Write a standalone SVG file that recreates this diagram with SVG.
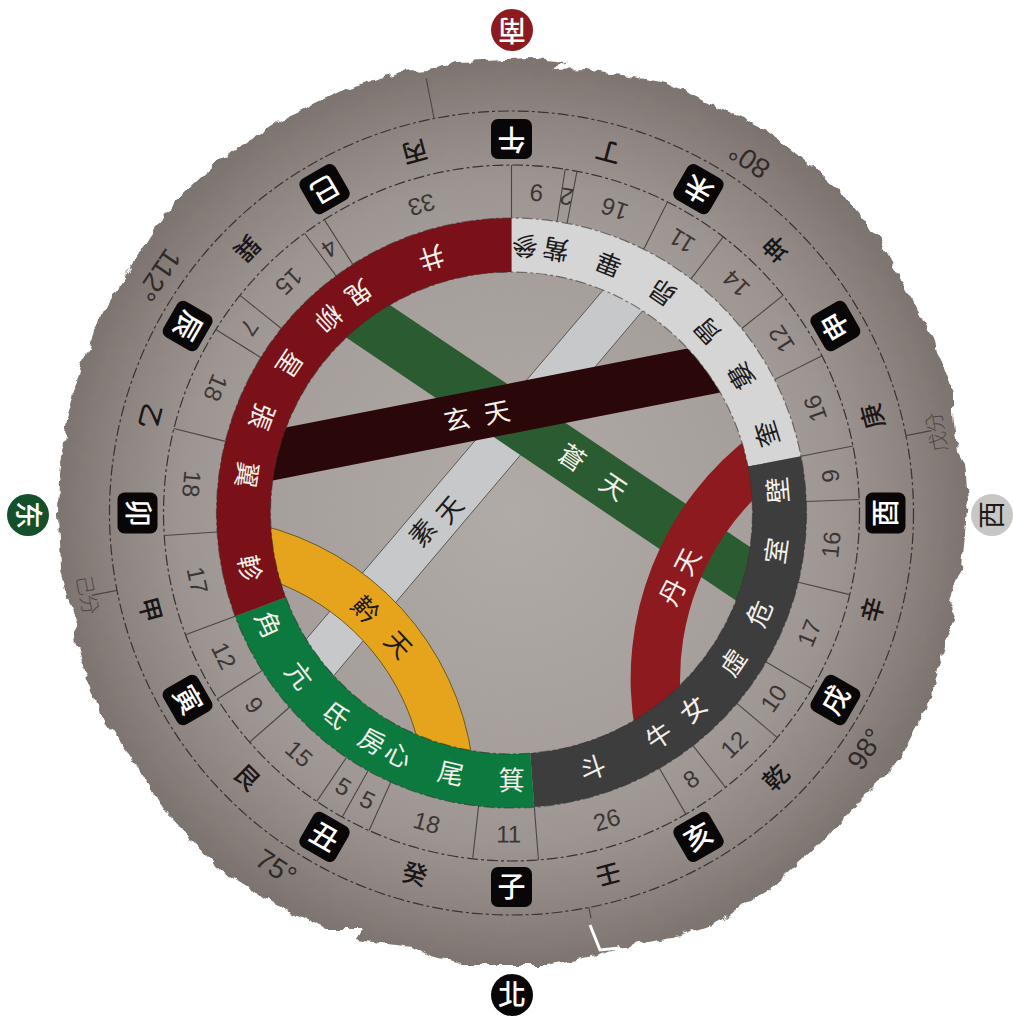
<svg xmlns="http://www.w3.org/2000/svg" width="1013" height="1019" viewBox="0 0 1013 1019">
<style>
text{font-family:"Noto Sans CJK TC","Noto Sans CJK SC","Liberation Sans",sans-serif;text-anchor:middle}
.num{font-family:"Liberation Sans",sans-serif;font-size:24px;fill:#3b3634}
.deg{font-family:"Liberation Sans",sans-serif;font-size:28px;fill:#2f2b29}
.stem{font-size:25px;fill:#191615;font-weight:500}
.tile{fill:#080606}
.tg{font-size:28px;fill:#fff;font-weight:500}
.lw{font-size:26px;fill:#f4f0ea}
.lk{font-size:26px;fill:#1c1a1a}
.fen{font-size:20px;fill:#4d4744;font-weight:300}
.dash{fill:none;stroke:#383331;stroke-width:1.2;stroke-dasharray:11 3 3 3}
.seg line{stroke:#4c4643;stroke-width:1.1}
</style>
<defs>
<radialGradient id="disk" gradientUnits="userSpaceOnUse" cx="511.5" cy="513" r="460">
<stop offset="0" stop-color="#b1aba8"/>
<stop offset="0.55" stop-color="#a59e9a"/>
<stop offset="0.72" stop-color="#9d9591"/>
<stop offset="0.88" stop-color="#8c837f"/>
<stop offset="1" stop-color="#7b726e"/>
</radialGradient>
<filter id="rough" x="-5%" y="-5%" width="110%" height="110%">
<feTurbulence type="fractalNoise" baseFrequency="0.09" numOctaves="2" seed="4" result="n"/>
<feDisplacementMap in="SourceGraphic" in2="n" scale="9" xChannelSelector="R" yChannelSelector="G"/>
<feGaussianBlur stdDeviation="0.7"/>
</filter>
</defs>

<g id="disk-ground">
<path filter="url(#rough)" fill="url(#disk)" d="M400 72L430 70L457 62L533 59L567 62L552 70L587 69L633 77L667 83L717 107L767 130L800 157L840 190L880 240L913 300L933 340L953 393L953 413L957 450L965 463L968 500L965 533L962 567L947 600L955 620L947 640L930 700L900 760L860 800L827 837L803 860L773 887L740 907L723 920L680 935L620 947L597 955L547 965L463 965L427 955L413 947L380 943L357 940L363 930L330 930L280 907L220 870L167 813L140 770L100 713L83 670L73 633L77 620L68 602L60 570L58 513L59 480L67 420L80 370L100 317L150 237L173 203L220 160L280 120L340 92Z"/>
<path d="M590 925L600 950L620 948" fill="none" stroke="#fff" stroke-width="3"/>
</g>

<g id="bands">
<polygon points="610,282 650,302 325,686 297,650" fill="#c6c8ca" stroke="#5c5856"/>
<polygon points="381,299 762,555 747,608 338,332" fill="#2b5c31"/>
<polygon points="273,430 695,347 733,390 260,483" fill="#2a0708"/>
<path d="M257.8 524.3A281 281 0 0 1 472.3 759.4L417.3 738.7A231 231 0 0 0 268.6 579.4Z" fill="#e5a41b" stroke="#6a5a20"/>
<path d="M754.6 433A306 306 0 0 0 635.4 732.8L680.6 696.4A257 257 0 0 1 762.6 490.6Z" fill="#8c1a1e"/>
</g>

<g id="ring">
<path d="M511.5 218A295 295 0 0 1 801 456.2L748 466.6A241 241 0 0 0 511.5 272Z" fill="#d5d5d5"/>
<path d="M801 456.2A295 295 0 0 1 534.3 807.1L530.2 753.3A241 241 0 0 0 748 466.6Z" fill="#3d3d3d"/>
<path d="M534.3 807.1A295 295 0 0 1 235.1 616.2L285.7 597.3A241 241 0 0 0 530.2 753.3Z" fill="#0c7a3e"/>
<path d="M235.1 616.2A295 295 0 0 1 511.5 218L511.5 272A241 241 0 0 0 285.7 597.3Z" fill="#7a1018"/>
<circle class="dash" cx="511.5" cy="513" r="295" opacity="0.6"/>
<circle class="dash" cx="511.5" cy="513" r="241" opacity="0.6"/>
</g>

<g id="connectors">
<circle class="dash" cx="511.5" cy="513" r="348"/>
<circle class="dash" cx="511.5" cy="513" r="402"/>
<g class="seg">
<line x1="511.5" y1="218" x2="511.5" y2="165"/>
<line x1="511.5" y1="218" x2="511.5" y2="165" transform="rotate(8.88 511.5 513)"/>
<line x1="511.5" y1="218" x2="511.5" y2="165" transform="rotate(10.85 511.5 513)"/>
<line x1="511.5" y1="218" x2="511.5" y2="165" transform="rotate(26.63 511.5 513)"/>
<line x1="511.5" y1="218" x2="511.5" y2="165" transform="rotate(37.48 511.5 513)"/>
<line x1="511.5" y1="218" x2="511.5" y2="165" transform="rotate(51.29 511.5 513)"/>
<line x1="511.5" y1="218" x2="511.5" y2="165" transform="rotate(63.12 511.5 513)"/>
<line x1="511.5" y1="218" x2="511.5" y2="165" transform="rotate(78.9 511.5 513)"/>
<line x1="511.5" y1="218" x2="511.5" y2="165" transform="rotate(87.78 511.5 513)"/>
<line x1="511.5" y1="218" x2="511.5" y2="165" transform="rotate(103.56 511.5 513)"/>
<line x1="511.5" y1="218" x2="511.5" y2="165" transform="rotate(120.33 511.5 513)"/>
<line x1="511.5" y1="218" x2="511.5" y2="165" transform="rotate(130.19 511.5 513)"/>
<line x1="511.5" y1="218" x2="511.5" y2="165" transform="rotate(142.03 511.5 513)"/>
<line x1="511.5" y1="218" x2="511.5" y2="165" transform="rotate(149.92 511.5 513)"/>
<line x1="511.5" y1="218" x2="511.5" y2="165" transform="rotate(175.56 511.5 513)"/>
<line x1="511.5" y1="218" x2="511.5" y2="165" transform="rotate(186.41 511.5 513)"/>
<line x1="511.5" y1="218" x2="511.5" y2="165" transform="rotate(204.16 511.5 513)"/>
<line x1="511.5" y1="218" x2="511.5" y2="165" transform="rotate(209.1 511.5 513)"/>
<line x1="511.5" y1="218" x2="511.5" y2="165" transform="rotate(214.03 511.5 513)"/>
<line x1="511.5" y1="218" x2="511.5" y2="165" transform="rotate(228.82 511.5 513)"/>
<line x1="511.5" y1="218" x2="511.5" y2="165" transform="rotate(237.7 511.5 513)"/>
<line x1="511.5" y1="218" x2="511.5" y2="165" transform="rotate(249.53 511.5 513)"/>
<line x1="511.5" y1="218" x2="511.5" y2="165" transform="rotate(266.3 511.5 513)"/>
<line x1="511.5" y1="218" x2="511.5" y2="165" transform="rotate(284.05 511.5 513)"/>
<line x1="511.5" y1="218" x2="511.5" y2="165" transform="rotate(301.81 511.5 513)"/>
<line x1="511.5" y1="218" x2="511.5" y2="165" transform="rotate(308.71 511.5 513)"/>
<line x1="511.5" y1="218" x2="511.5" y2="165" transform="rotate(323.51 511.5 513)"/>
<line x1="511.5" y1="218" x2="511.5" y2="165" transform="rotate(327.45 511.5 513)"/>
<line x1="511.5" y1="111" x2="511.5" y2="70" transform="rotate(348.9 511.5 513)"/>
<line x1="511.5" y1="111" x2="511.5" y2="85" transform="rotate(78.9 511.5 513)"/>
<line x1="511.5" y1="111" x2="511.5" y2="100" transform="rotate(168.9 511.5 513)"/>
<line x1="511.5" y1="111" x2="511.5" y2="85" transform="rotate(258.9 511.5 513)"/>
</g>
</g>

<g id="counts">
<text class="num" x="511.5" y="842.5" transform="rotate(-175.56 511.5 513)">9</text>
<text class="num" x="511.5" y="842.5" transform="rotate(-170.14 511.5 513)">2</text>
<text class="num" x="511.5" y="842.5" transform="rotate(-161.26 511.5 513)">16</text>
<text class="num" x="511.5" y="842.5" transform="rotate(-147.95 511.5 513)">11</text>
<text class="num" x="511.5" y="842.5" transform="rotate(-135.62 511.5 513)">14</text>
<text class="num" x="511.5" y="842.5" transform="rotate(-122.8 511.5 513)">12</text>
<text class="num" x="511.5" y="842.5" transform="rotate(-109 511.5 513)">16</text>
<text class="num" x="511.5" y="842.5" transform="rotate(-96.66 511.5 513)">9</text>
<text class="num" x="511.5" y="842.5" transform="rotate(-84.33 511.5 513)">16</text>
<text class="num" x="511.5" y="842.5" transform="rotate(-68.05 511.5 513)">17</text>
<text class="num" x="511.5" y="842.5" transform="rotate(-54.74 511.5 513)">10</text>
<text class="num" x="511.5" y="842.5" transform="rotate(-43.89 511.5 513)">12</text>
<text class="num" x="511.5" y="842.5" transform="rotate(-34.03 511.5 513)">8</text>
<text class="num" x="511.5" y="842.5" transform="rotate(-17.26 511.5 513)">26</text>
<text class="num" x="511.5" y="842.5" transform="rotate(0.5 511.5 513)">11</text>
<text class="num" x="511.5" y="842.5" transform="rotate(15.29 511.5 513)">18</text>
<text class="num" x="511.5" y="842.5" transform="rotate(26.63 511.5 513)">5</text>
<text class="num" x="511.5" y="842.5" transform="rotate(31.56 511.5 513)">5</text>
<text class="num" x="511.5" y="842.5" transform="rotate(41.42 511.5 513)">15</text>
<text class="num" x="511.5" y="842.5" transform="rotate(53.26 511.5 513)">9</text>
<text class="num" x="511.5" y="842.5" transform="rotate(63.62 511.5 513)">12</text>
<text class="num" x="511.5" y="842.5" transform="rotate(77.92 511.5 513)">17</text>
<text class="num" x="511.5" y="842.5" transform="rotate(95.18 511.5 513)">18</text>
<text class="num" x="511.5" y="842.5" transform="rotate(112.93 511.5 513)">18</text>
<text class="num" x="511.5" y="842.5" transform="rotate(125.26 511.5 513)">7</text>
<text class="num" x="511.5" y="842.5" transform="rotate(136.11 511.5 513)">15</text>
<text class="num" x="511.5" y="842.5" transform="rotate(145.48 511.5 513)">4</text>
<text class="num" x="511.5" y="842.5" transform="rotate(163.73 511.5 513)">33</text>
</g>

<g id="stems">
<text class="stem" x="511.5" y="896" transform="rotate(15 511.5 513)">癸</text>
<text class="stem" x="511.5" y="896" transform="rotate(45 511.5 513)">艮</text>
<text class="stem" x="511.5" y="896" transform="rotate(75 511.5 513)">甲</text>
<text class="stem" x="511.5" y="896" transform="rotate(105 511.5 513)">乙</text>
<text class="stem" x="511.5" y="896" transform="rotate(135 511.5 513)">巽</text>
<text class="stem" x="511.5" y="896" transform="rotate(165 511.5 513)">丙</text>
<text class="stem" x="511.5" y="896" transform="rotate(195 511.5 513)">丁</text>
<text class="stem" x="511.5" y="896" transform="rotate(225 511.5 513)">坤</text>
<text class="stem" x="511.5" y="896" transform="rotate(255 511.5 513)">庚</text>
<text class="stem" x="511.5" y="896" transform="rotate(285 511.5 513)">辛</text>
<text class="stem" x="511.5" y="896" transform="rotate(315 511.5 513)">乾</text>
<text class="stem" x="511.5" y="896" transform="rotate(345 511.5 513)">壬</text>
</g>

<g id="branches">
<g id="b-zi"><rect class="tile" x="491" y="867" width="41" height="40" rx="7"/><text class="tg" x="511.5" y="897">子</text></g>
<g id="b-chou" transform="rotate(30 511.5 513)"><rect class="tile" x="491" y="867" width="41" height="40" rx="7"/><text class="tg" x="511.5" y="897">丑</text></g>
<g id="b-yin" transform="rotate(60 511.5 513)"><rect class="tile" x="491" y="867" width="41" height="40" rx="7"/><text class="tg" x="511.5" y="897">寅</text></g>
<g id="b-mao" transform="rotate(90 511.5 513)"><rect class="tile" x="491" y="867" width="41" height="40" rx="7"/><text class="tg" x="511.5" y="897">卯</text></g>
<g id="b-chen" transform="rotate(120 511.5 513)"><rect class="tile" x="491" y="867" width="41" height="40" rx="7"/><text class="tg" x="511.5" y="897">辰</text></g>
<g id="b-si" transform="rotate(150 511.5 513)"><rect class="tile" x="491" y="867" width="41" height="40" rx="7"/><text class="tg" x="511.5" y="897">巳</text></g>
<g id="b-wu" transform="rotate(180 511.5 513)"><rect class="tile" x="491" y="867" width="41" height="40" rx="7"/><text class="tg" x="511.5" y="897">午</text></g>
<g id="b-wei" transform="rotate(210 511.5 513)"><rect class="tile" x="491" y="867" width="41" height="40" rx="7"/><text class="tg" x="511.5" y="897">未</text></g>
<g id="b-shen" transform="rotate(240 511.5 513)"><rect class="tile" x="491" y="867" width="41" height="40" rx="7"/><text class="tg" x="511.5" y="897">申</text></g>
<g id="b-you" transform="rotate(270 511.5 513)"><rect class="tile" x="491" y="867" width="41" height="40" rx="7"/><text class="tg" x="511.5" y="897">酉</text></g>
<g id="b-xu" transform="rotate(300 511.5 513)"><rect class="tile" x="491" y="867" width="41" height="40" rx="7"/><text class="tg" x="511.5" y="897">戌</text></g>
<g id="b-hai" transform="rotate(330 511.5 513)"><rect class="tile" x="491" y="867" width="41" height="40" rx="7"/><text class="tg" x="511.5" y="897">亥</text></g>
</g>

<g id="lodges">
<text class="lw" x="511.5" y="790" transform="rotate(0 511.5 513)">箕</text>
<text class="lw" x="511.5" y="790" transform="rotate(13.1 511.5 513)">尾</text>
<text class="lw" x="511.5" y="790" transform="rotate(25.1 511.5 513)">心</text>
<text class="lw" x="511.5" y="790" transform="rotate(31.4 511.5 513)">房</text>
<text class="lw" x="511.5" y="790" transform="rotate(41 511.5 513)">氐</text>
<text class="lw" x="511.5" y="790" transform="rotate(52.6 511.5 513)">亢</text>
<text class="lw" x="511.5" y="790" transform="rotate(65.4 511.5 513)">角</text>
<text class="lw" x="511.5" y="790" transform="rotate(78.1 511.5 513)">軫</text>
<text class="lw" x="511.5" y="790" transform="rotate(98.2 511.5 513)">翼</text>
<text class="lw" x="511.5" y="790" transform="rotate(111.1 511.5 513)">張</text>
<text class="lw" x="511.5" y="790" transform="rotate(123.9 511.5 513)">星</text>
<text class="lw" x="511.5" y="790" transform="rotate(136.8 511.5 513)">柳</text>
<text class="lw" x="511.5" y="790" transform="rotate(145.2 511.5 513)">鬼</text>
<text class="lw" x="511.5" y="790" transform="rotate(162.6 511.5 513)">井</text>
<text class="lk" x="511.5" y="790" transform="rotate(-177.1 511.5 513)">參</text>
<text class="lk" x="511.5" y="790" transform="rotate(-170.5 511.5 513)">觜</text>
<text class="lk" x="511.5" y="790" transform="rotate(-158.7 511.5 513)">畢</text>
<text class="lk" x="511.5" y="790" transform="rotate(-145.6 511.5 513)">昴</text>
<text class="lk" x="511.5" y="790" transform="rotate(-132.9 511.5 513)">胃</text>
<text class="lk" x="511.5" y="790" transform="rotate(-120.8 511.5 513)">婁</text>
<text class="lk" x="511.5" y="790" transform="rotate(-107.2 511.5 513)">奎</text>
<text class="lw" x="511.5" y="790" transform="rotate(-94.9 511.5 513)">壁</text>
<text class="lw" x="511.5" y="790" transform="rotate(-81.9 511.5 513)">室</text>
<text class="lw" x="511.5" y="790" transform="rotate(-67.9 511.5 513)">危</text>
<text class="lw" x="511.5" y="790" transform="rotate(-56 511.5 513)">虛</text>
<text class="lw" x="511.5" y="790" transform="rotate(-42.8 511.5 513)">女</text>
<text class="lw" x="511.5" y="790" transform="rotate(-33.5 511.5 513)">牛</text>
<text class="lw" x="511.5" y="790" transform="rotate(-17.7 511.5 513)">斗</text>
</g>

<g id="band-labels">
<text class="lw" transform="translate(457 420) rotate(-11)" y="9">玄</text>
<text class="lw" transform="translate(497 413) rotate(-11)" y="9">天</text>
<text class="lw" transform="translate(572 458) rotate(34)" y="9">蒼</text>
<text class="lw" transform="translate(613 487) rotate(34)" y="9">天</text>
<text class="lk" transform="translate(423 533) rotate(-50)" y="9">素</text>
<text class="lk" transform="translate(450 510) rotate(-50)" y="9">天</text>
<text class="lw" transform="translate(673 592) rotate(-63)" y="9">丹</text>
<text class="lw" transform="translate(688 562) rotate(-63)" y="9">天</text>
<text class="lk" transform="translate(365 610) rotate(47)" y="9">黅</text>
<text class="lk" transform="translate(398 645) rotate(47)" y="9">天</text>
</g>

<g id="degrees">
<text class="deg" x="511.5" y="948" transform="rotate(33.6 511.5 513)">75°</text>
<text class="deg" x="511.5" y="948" transform="rotate(-146 511.5 513)">80°</text>
<text class="deg" x="511.5" y="948" transform="rotate(-56.3 511.5 513)">98°</text>
<text class="deg" x="511.5" y="948" transform="rotate(124 511.5 513)">112°</text>
<text class="fen" transform="translate(937 432) rotate(-100.8)" y="7">戊分</text>
<text class="fen" transform="translate(87 595) rotate(79)" y="7">己分</text>
</g>

<g id="south"><circle cx="512" cy="30" r="21" fill="#8c1a1e"/><text class="tg" transform="translate(512 30) rotate(180)" y="10">南</text></g>
<g id="west"><circle cx="992" cy="515" r="21" fill="#c9c7c6"/><text class="lk" style="font-size:28px" transform="translate(992 515) rotate(-90)" y="10">西</text></g>
<g id="north"><circle cx="512" cy="995" r="21" fill="#080606"/><text class="tg" transform="translate(512 995)" y="10">北</text></g>
<g id="east"><circle cx="28" cy="515" r="21" fill="#14502a"/><text class="tg" transform="translate(28 515) rotate(90)" y="10">东</text></g>
</svg>
